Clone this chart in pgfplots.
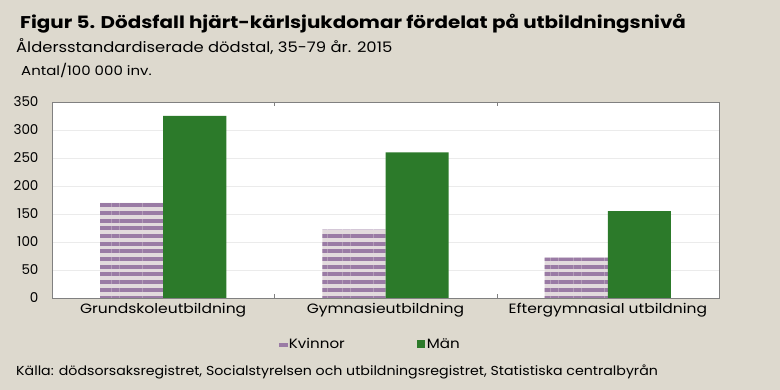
\documentclass[border=0pt]{standalone}
\usepackage{fontspec}
\setmainfont{Poppins}
\newfontfamily\fttitle[FakeStretch=1.17]{Poppins}
\newfontfamily\ftsub[FakeStretch=1.13]{Poppins}
\newfontfamily\ftylab[FakeStretch=1.15]{Poppins}
\newfontfamily\ftx[FakeStretch=1.15]{Poppins}
\newfontfamily\ftleg[FakeStretch=1.12]{Poppins}
\newfontfamily\ftsrc[FakeStretch=1.09]{Poppins}
\usepackage{pgfplots}
\pgfplotsset{compat=1.18}
\usetikzlibrary{patterns.meta}
\definecolor{bg}{HTML}{DDD9CE}
\definecolor{kv}{HTML}{9A7BA5}
\definecolor{kvl}{HTML}{E2DADD}
\definecolor{man}{HTML}{2C7A2A}
\definecolor{frm}{HTML}{808080}
\definecolor{grd}{HTML}{EBEBEB}
\begin{document}
\begin{tikzpicture}[x=1pt,y=1pt]
\fill[bg] (0,0) rectangle (780,-390);
\node[anchor=base west, inner sep=0pt, font=\fttitle\bfseries\fontsize{17}{17}\selectfont] at (20,-29) {Figur 5. Dödsfall hjärt-kärlsjukdomar fördelat på utbildningsnivå};
\node[anchor=base west, inner sep=0pt, font=\ftsub\fontsize{14.5}{14.5}\selectfont] at (16,-53) {Åldersstandardiserade dödstal, 35-79 år. 2015};
\node[anchor=base west, inner sep=0pt, font=\ftylab\fontsize{13}{13}\selectfont] at (21,-76) {Antal/100 000 inv.};
\node[anchor=base west, inner sep=0pt, font=\ftsrc\fontsize{13}{13}\selectfont] at (16,-376) {Källa: dödsorsaksregistret, Socialstyrelsen och utbildningsregistret, Statistiska centralbyrån};
\begin{axis}[
  at={(52pt,-298pt)}, anchor=south west,
  scale only axis, width=667pt, height=196pt,
  axis background/.style={fill=white},
  axis line style={frm},
  xmin=-0.5, xmax=2.5, ymin=0, ymax=350,
  ytick={0,50,...,350},
  ymajorgrids, grid style={grd},
  ytick style={draw=none},
  xtick={0,1,2},
  xticklabels={Grundskoleutbildning,Gymnasieutbildning,Eftergymnasial utbildning},
  major x tick style={draw=none},
  minor xtick={0.5,1.5},
  minor x tick style={frm},
  minor tick length=4pt,
  tick align=inside,
  /pgf/number format/assume math mode=true,
  yticklabel style={xshift=-10pt, font=\fontsize{13.5}{13.5}\selectfont},
  xticklabel style={yshift=-2pt, font=\ftx\fontsize{13.5}{13.5}\selectfont},
  legend style={draw=none, fill=none, at={(0.477,-0.236)}, anchor=center,
    legend columns=2, font=\ftleg\fontsize{13.5}{13.5}\selectfont,
    /tikz/every even column/.append style={column sep=70pt}},
  legend cell align=left,
]
\addplot[ybar, bar width=0.284, bar shift=-0.142, draw=none, fill=kvl,
  postaction={pattern={Lines[angle=0,distance=7.7pt,line width=4pt]}, pattern color=kv},
  forget plot]
  coordinates {(0,170) (1,122) (2,72)};
\addlegendimage{legend image code/.code={\fill[kv] (1pt,-1.5pt) rectangle (9pt,1.5pt);}}
\addlegendentry{Kvinnor}
\addplot[ybar, bar width=0.284, bar shift=0.142, draw=none, fill=man,
  legend image code/.code={\fill[man] (1pt,-4pt) rectangle (9pt,4pt);}]
  coordinates {(0,325) (1,260) (2,155)};
\addlegendentry{Män}
\end{axis}
\end{tikzpicture}
\end{document}
